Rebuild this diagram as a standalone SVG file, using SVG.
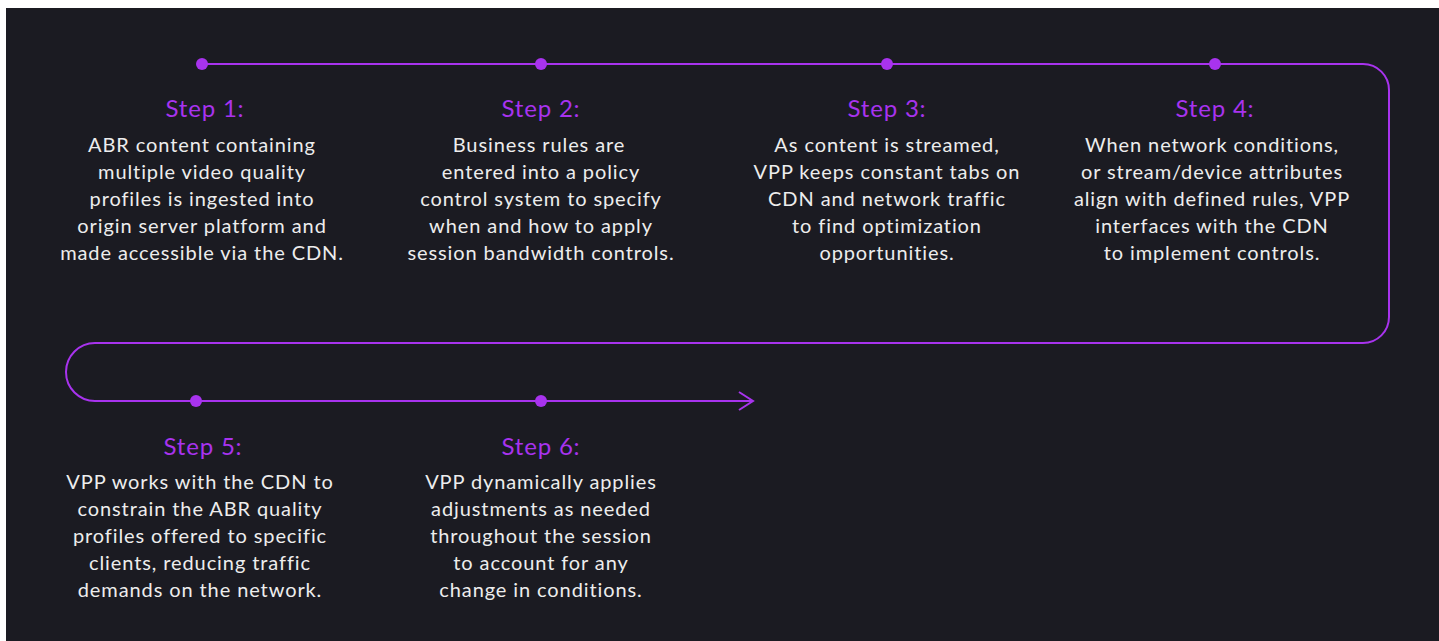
<svg xmlns="http://www.w3.org/2000/svg" width="1439" height="641" viewBox="0 0 1439 641">
<style>
.h{font-family:Lato,"Open Sans","Liberation Sans",sans-serif;font-size:24px;letter-spacing:0.8px;fill:#a833ee;text-anchor:middle}
.b{font-family:Lato,"Open Sans","Liberation Sans",sans-serif;font-size:20px;letter-spacing:0.9px;fill:#ededed;text-anchor:middle}
.ln{fill:none;stroke:#a833ee;stroke-width:2}
.dot{fill:#a833ee}
</style>
<rect x="0" y="0" width="1439" height="641" fill="#ffffff"/>
<rect x="6" y="8" width="1433" height="633" fill="#1b1b22"/>
<g id="connectors">
<path class="ln" d="M202 64 H1363 A26 26 0 0 1 1389 90 V317 A26 26 0 0 1 1363 343 H95 A29 29 0 0 0 95 401 H753"/>
<path class="ln" d="M739 392 L753 401 L739 410"/>
</g>
<g id="step1">
<circle class="dot" cx="202" cy="64" r="6"/>
<text class="h" x="205" y="117">Step 1:</text>
<text class="b" x="202" y="152">ABR content containing</text>
<text class="b" x="202" y="179">multiple video quality</text>
<text class="b" x="202" y="206">profiles is ingested into</text>
<text class="b" x="202" y="233">origin server platform and</text>
<text class="b" x="202" y="260">made accessible via the CDN.</text>
</g>
<g id="step2">
<circle class="dot" cx="541" cy="64" r="6"/>
<text class="h" x="541" y="117">Step 2:</text>
<text class="b" x="539" y="152">Business rules are</text>
<text class="b" x="541" y="179">entered into a policy</text>
<text class="b" x="541" y="206">control system to specify</text>
<text class="b" x="541" y="233">when and how to apply</text>
<text class="b" x="541" y="260">session bandwidth controls.</text>
</g>
<g id="step3">
<circle class="dot" cx="887" cy="64" r="6"/>
<text class="h" x="887" y="117">Step 3:</text>
<text class="b" x="887" y="152">As content is streamed,</text>
<text class="b" x="887" y="179">VPP keeps constant tabs on</text>
<text class="b" x="887" y="206">CDN and network traffic</text>
<text class="b" x="887" y="233">to find optimization</text>
<text class="b" x="887" y="260">opportunities.</text>
</g>
<g id="step4">
<circle class="dot" cx="1215" cy="64" r="6"/>
<text class="h" x="1215" y="117">Step 4:</text>
<text class="b" x="1212" y="152">When network conditions,</text>
<text class="b" x="1212" y="179">or stream/device attributes</text>
<text class="b" x="1212" y="206">align with defined rules, VPP</text>
<text class="b" x="1212" y="233">interfaces with the CDN</text>
<text class="b" x="1212" y="260">to implement controls.</text>
</g>
<g id="step5">
<circle class="dot" cx="196" cy="401" r="6"/>
<text class="h" x="203" y="455">Step 5:</text>
<text class="b" x="200" y="489">VPP works with the CDN to</text>
<text class="b" x="200" y="516">constrain the ABR quality</text>
<text class="b" x="200" y="543">profiles offered to specific</text>
<text class="b" x="200" y="570">clients, reducing traffic</text>
<text class="b" x="200" y="597">demands on the network.</text>
</g>
<g id="step6">
<circle class="dot" cx="541" cy="401" r="6"/>
<text class="h" x="541" y="455">Step 6:</text>
<text class="b" x="541" y="489">VPP dynamically applies</text>
<text class="b" x="541" y="516">adjustments as needed</text>
<text class="b" x="541" y="543">throughout the session</text>
<text class="b" x="541" y="570">to account for any</text>
<text class="b" x="541" y="597">change in conditions.</text>
</g>
</svg>
